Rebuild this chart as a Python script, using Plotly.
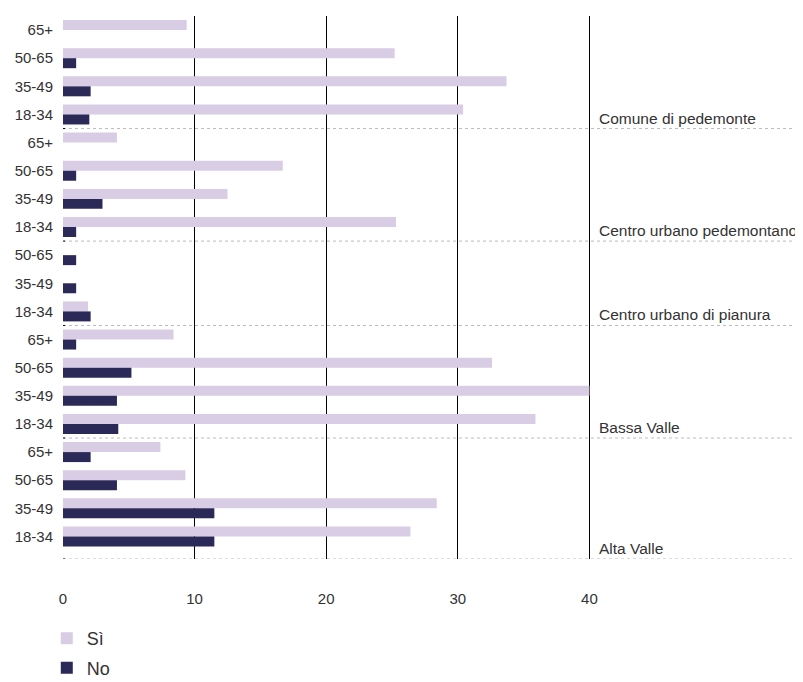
import plotly.graph_objects as go

# ---- data ----
groups = ["Comune di pedemonte", "Centro urbano pedemontano", "Centro urbano di pianura",
          "Bassa Valle", "Alta Valle"]
group_ages = [
    ["65+", "50-65", "35-49", "18-34"],
    ["65+", "50-65", "35-49", "18-34"],
    ["50-65", "35-49", "18-34"],
    ["65+", "50-65", "35-49", "18-34"],
    ["65+", "50-65", "35-49", "18-34"],
]
si_values = [9.4, 25.2, 33.7, 30.4,
             4.1, 16.7, 12.5, 25.3,
             0.0, 0.0, 1.9,
             8.4, 32.6, 40.0, 35.9,
             7.4, 9.3, 28.4, 26.4]
no_values = [0.0, 1.0, 2.1, 2.0,
             0.0, 1.0, 3.0, 1.0,
             1.0, 1.0, 2.1,
             1.0, 5.2, 4.1, 4.2,
             2.1, 4.1, 11.5, 11.5]
x_ticks = [0, 10, 20, 30, 40]
series_names = ["Sì", "No"]

# ---- build category keys ----
keys, labels, group_end_idx = [], [], []
for g, ages in zip(groups, group_ages):
    for a in ages:
        keys.append(f"{g}|{a}")
        labels.append(a)
    group_end_idx.append(len(keys) - 1)

FONT = "Liberation Sans"
TXT = "#333333"
SI_COLOR = "#d9cde6"
NO_COLOR = "#2b2957"

fig = go.Figure()
fig.add_trace(go.Bar(y=keys, x=si_values, name=series_names[0], orientation="h",
                     marker=dict(color=SI_COLOR, line=dict(width=0)), legendgroup="a"))
fig.add_trace(go.Bar(y=keys, x=no_values, name=series_names[1], orientation="h",
                     marker=dict(color=NO_COLOR, line=dict(width=0)), legendgroup="b"))

n = len(keys)
shapes = []
annotations = []
for k, (g, idx) in enumerate(zip(groups, group_end_idx)):
    ysep = idx + 0.5 if k < len(groups) - 1 else n - 1 + 0.8
    shapes.append(dict(type="line", xref="paper", yref="y", x0=0, x1=1, y0=ysep, y1=ysep,
                       line=dict(color="#bbbbbb", width=1, dash="3px,3px"), layer="below"))
    shapes.append(dict(type="line", xref="x", yref="y", x0=0, x1=0.15, y0=ysep, y1=ysep,
                       line=dict(color="#000000", width=1), layer="above"))
    annotations.append(dict(x=40.55, y=ysep, xref="x", yref="y", text=g, showarrow=False,
                            xanchor="left", yanchor="bottom", yshift=0,
                            font=dict(family=FONT, size=15.5, color=TXT)))

# page body adds an 8px offset, so the figure is sized/margined to compensate
fig.update_layout(
    width=795, height=674,
    margin=dict(l=55, r=3, t=8, b=123, autoexpand=False),
    paper_bgcolor="white", plot_bgcolor="white",
    barmode="group", bargap=0.29, bargroupgap=0,
    showlegend=True,
    legend=dict(x=-0.022, y=-0.1125, xanchor="left", yanchor="top", orientation="v",
                font=dict(family=FONT, size=18, color=TXT), tracegroupgap=3,
                traceorder="grouped", bgcolor="rgba(0,0,0,0)"),
    xaxis=dict(range=[0, 56], tickvals=x_ticks, showgrid=True, gridcolor="#000000", gridwidth=1,
               zeroline=True, zerolinecolor="#ffffff", zerolinewidth=1,
               showline=False, ticks="outside", ticklen=26, tickcolor="rgba(0,0,0,0)",
               tickfont=dict(family=FONT, size=15, color=TXT), fixedrange=True,
               automargin=False),
    yaxis=dict(type="category", categoryorder="array", categoryarray=keys,
               tickmode="array", tickvals=keys, ticktext=labels,
               range=[n - 1 + 0.8, -0.5], showgrid=False, zeroline=False, showline=False,
               ticks="outside", ticklen=6, tickcolor="rgba(0,0,0,0)",
               tickfont=dict(family=FONT, size=15, color=TXT), fixedrange=True,
               automargin=False),
    shapes=shapes, annotations=annotations,
    font=dict(family=FONT, color=TXT),
)

fig.write_html("out.html")
